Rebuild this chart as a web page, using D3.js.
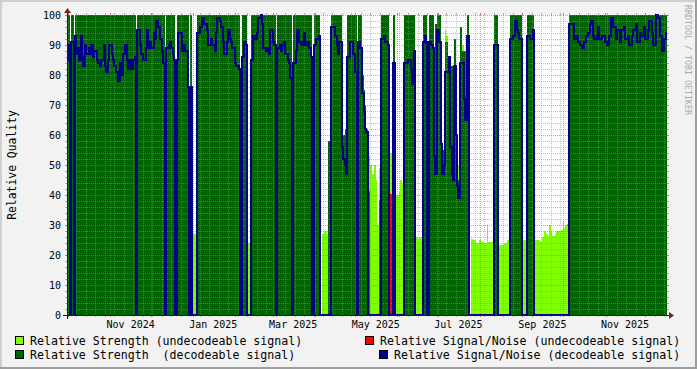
<!DOCTYPE html>
<html>
<head>
<meta charset="utf-8">
<script src="https://cdn.jsdelivr.net/npm/d3@7"></script>
<style>
  body { margin: 0; background: #f2f2f2; }
  svg { display: block; font-family: "DejaVu Sans Mono", monospace; }
</style>
</head>
<body>
<svg id="chart" width="697" height="369"></svg>
<script>
// time range of the graph (days below are counted from start)
var start = new Date(Date.UTC(2024, 8, 30));
var end = new Date(Date.UTC(2025, 11, 17));

// [day, value] change points, value holds until the next entry
var strengthGood = [[0,100],[2,0],[3,100],[5,0],[6,100],[51,0],[52,100],[72,0],[73,100],[80,0],[81,100],[90,0],[91,100],[92,0],[96,100],[128,0],[129,100],[133,0],[136,100],[154,0],[155,100],[166,0],[167,100],[181,0],[182,100],[187,0],[193,58],[194,50],[195,100],[203,62],[204,60],[205,62],[206,58],[207,100],[214,0],[215,100],[218,80],[219,75],[220,70],[221,62],[222,0],[232,100],[238,0],[241,100],[242,0],[249,100],[257,0],[263,100],[266,0],[267,100],[271,55],[272,97],[273,100],[276,55],[279,91],[281,86],[283,83],[286,92],[287,83],[288,45],[290,96],[292,88],[295,100],[297,0],[315,100],[318,0],[327,100],[336,0],[340,100],[345,0],[371,100]];

var strengthBad = [[0,0],[93,27],[95,0],[128,25],[129,0],[134,24],[136,0],[166,25],[167,0],[188,27],[190,28],[192,27],[193,0],[222,53],[224,50],[225,47],[227,50],[228,45],[229,30],[230,49],[231,28],[232,0],[238,54],[240,50],[241,0],[242,43],[243,40],[245,41],[246,45],[247,44],[248,43],[249,0],[258,26],[259,25.5],[260,26],[262,0],[279,95],[280,93],[281,0],[288,55],[289,50],[290,0],[292,90],[293,0],[298,25.5],[300,25],[302,24],[304,25],[306,24.5],[308,24],[310,30],[311,24.5],[315,0],[319,23.5],[323,24],[325,25],[327,0],[337,25],[340,0],[345,25],[349,24.5],[351,26],[352,28],[354,27],[355,26.5],[356,30],[357,28],[358,26.5],[360,27],[361,28],[365,28.5],[366,31],[367,29],[368,30],[369,30.5],[370,30],[371,0]];

var snrBad = [[0,0],[222,41],[223,0],[231,38],[232,0],[239,40],[240,38],[241,0]];

var snrGood = [[0,85],[1,90],[2,0],[3,91],[5,0],[6,93],[7,87],[8,89],[9,85],[10,93],[11,86],[12,83],[13,90],[14,87],[16,89],[17,87],[18,90],[19,86],[20,88],[22,85],[23,84],[24,83],[25,85],[27,90],[28,83],[29,81],[30,85],[31,90],[33,87],[34,85],[35,83],[36,81],[38,78],[39,84],[40,80],[41,87],[43,90],[44,85],[45,82],[46,85],[47,82],[49,85],[50,86],[51,0],[52,95],[54,90],[55,87],[56,85],[58,89],[59,95],[60,89],[61,91],[62,89],[64,94],[65,92],[66,98],[67,96],[69,92],[70,88],[71,84],[72,0],[73,89],[75,90],[76,91],[77,89],[78,87],[79,85],[80,0],[81,85],[82,94],[85,88],[86,90],[87,88],[89,76],[90,0],[91,76],[92,0],[96,94],[98,96],[100,99],[101,97],[103,95],[104,90],[106,92],[107,90],[109,88],[110,94],[111,99],[113,98],[114,96],[115,91],[116,87],[118,91],[119,95],[120,92],[121,91],[122,89],[124,84],[125,83],[127,82],[128,0],[129,86],[131,91],[132,90],[133,0],[136,85],[137,93],[139,92],[140,94],[141,99],[143,100],[144,97],[145,89],[147,88],[148,89],[149,87],[150,95],[152,91],[153,90],[154,0],[155,89],[157,90],[158,88],[159,90],[160,91],[161,87],[163,85],[164,84],[165,79],[166,0],[167,84],[169,88],[170,95],[171,91],[173,90],[174,91],[175,94],[176,90],[177,91],[179,89],[180,86],[181,0],[182,90],[184,92],[186,93],[187,0],[195,96],[198,93],[199,90],[200,87],[201,91],[203,56],[204,52],[205,50],[206,47],[207,86],[209,91],[211,87],[213,81],[214,0],[215,91],[216,89],[218,74],[219,68],[220,62],[221,61],[222,0],[232,92],[234,93],[235,91],[237,90],[238,0],[241,84],[242,0],[249,84],[252,85],[254,82],[255,77],[256,88],[257,0],[263,91],[264,93],[265,91],[266,0],[267,91],[269,90],[270,89],[271,53],[272,47],[273,95],[275,91],[276,57],[277,47],[278,50],[279,81],[282,86],[283,56],[284,47],[285,45],[286,83],[287,60],[288,43],[289,39],[290,84],[293,72],[294,65],[295,93],[297,0],[315,90],[318,0],[327,92],[329,93],[331,98],[332,95],[333,94],[334,92],[336,0],[340,93],[342,92],[344,95],[345,0],[371,97],[374,92],[376,93],[377,91],[379,90],[380,89],[382,91],[383,93],[385,94],[386,97],[387,98],[388,93],[389,92],[391,93],[392,96],[393,92],[395,93],[397,91],[399,90],[400,93],[402,99],[403,96],[405,92],[406,95],[408,91],[409,95],[411,96],[412,92],[414,93],[415,90],[417,93],[418,95],[420,97],[421,91],[423,94],[424,93],[426,96],[427,92],[429,95],[430,98],[432,94],[433,90],[435,100],[436,99],[438,93],[439,88],[441,92],[442,94]];

var yTicks = [0, 10, 20, 30, 40, 50, 60, 70, 80, 90, 100];
var legendItems = [
  {label: "Relative Strength (undecodeable signal)", color: "#80ff00"},
  {label: "Relative Signal/Noise (undecodeable signal)", color: "#ff0000"},
  {label: "Relative Strength  (decodeable signal)", color: "#006400"},
  {label: "Relative Signal/Noise (decodeable signal)", color: "#00008b"}
];

var W = 697, H = 369;
var plotL = 67, plotR = 667, plotT = 15, plotB = 315;

var svg = d3.select("#chart");

var x = d3.scaleUtc().domain([start, end]).range([plotL, plotR]);
var y = d3.scaleLinear().domain([0, 100]).range([plotB, plotT]);

function toPoints(changes) {
  var pts = changes.map(function(c) {
    return {t: d3.utcDay.offset(start, c[0]), v: c[1]};
  });
  pts.push({t: end, v: changes[changes.length - 1][1]});
  return pts;
}

// background + frame
svg.append("rect").attr("width", W).attr("height", H).attr("fill", "#f2f2f2");
svg.append("path").attr("d", "M1,369V1H697").attr("fill", "none").attr("stroke", "#cfcfcf").attr("stroke-width", 2);
svg.append("path").attr("d", "M0,368H696V0").attr("fill", "none").attr("stroke", "#9e9e9e").attr("stroke-width", 2);

svg.append("clipPath").attr("id", "plotclip").append("rect")
  .attr("x", plotL - 1).attr("y", plotT - 2).attr("width", plotR - plotL + 2).attr("height", plotB - plotT + 2);

// canvas
svg.append("rect").attr("x", plotL).attr("y", plotT).attr("width", plotR - plotL).attr("height", plotB - plotT).attr("fill", "#ffffff");

var area = d3.area()
  .curve(d3.curveStepAfter)
  .x(function(d) { return Math.round(x(d.t)); })
  .y0(y(0))
  .y1(function(d) { return y(d.v); });

var line = d3.line()
  .curve(d3.curveStepAfter)
  .x(function(d) { return Math.round(x(d.t)); })
  .y(function(d) { return y(d.v); });

// same order as the legend: light area, red line, dark area, blue line
svg.append("path").datum(toPoints(strengthBad))
  .attr("d", area).attr("fill", "#80ff00").attr("shape-rendering", "crispEdges");
svg.append("path").datum(toPoints(snrBad))
  .attr("d", line).attr("fill", "none").attr("stroke", "#ff0000").attr("stroke-width", 2)
  .attr("clip-path", "url(#plotclip)");
svg.append("path").datum(toPoints(strengthGood))
  .attr("d", area).attr("fill", "#006400").attr("shape-rendering", "crispEdges");

// grid (drawn over the areas like rrdtool does)
var grid = svg.append("g");
var minorY = d3.range(0, 101, 2).filter(function(v) { return v % 10 !== 0; });
minorY.forEach(function(v) {
  var yy = Math.round(y(v)) + 0.5;
  grid.append("line").attr("x1", plotL).attr("x2", plotR).attr("y1", yy).attr("y2", yy)
    .attr("stroke", "rgba(143,143,143,0.55)").attr("stroke-dasharray", "1,1");
  grid.append("line").attr("x1", plotL - 2).attr("x2", plotL).attr("y1", yy).attr("y2", yy)
    .attr("stroke", "rgba(143,143,143,0.7)");
  grid.append("line").attr("x1", plotR).attr("x2", plotR + 2).attr("y1", yy).attr("y2", yy)
    .attr("stroke", "rgba(143,143,143,0.7)");
});
d3.utcMonday.range(start, end).forEach(function(t) {
  var xx = Math.round(x(t)) + 0.5;
  grid.append("line").attr("x1", xx).attr("x2", xx).attr("y1", plotT).attr("y2", plotB)
    .attr("stroke", "rgba(143,143,143,0.55)").attr("stroke-dasharray", "1,1");
  grid.append("line").attr("x1", xx).attr("x2", xx).attr("y1", plotT - 2).attr("y2", plotT)
    .attr("stroke", "rgba(143,143,143,0.7)");
  grid.append("line").attr("x1", xx).attr("x2", xx).attr("y1", plotB).attr("y2", plotB + 2)
    .attr("stroke", "rgba(143,143,143,0.7)");
});
yTicks.forEach(function(v) {
  var yy = Math.round(y(v)) + 0.5;
  grid.append("line").attr("x1", plotL).attr("x2", plotR).attr("y1", yy).attr("y2", yy)
    .attr("stroke", "rgba(222,79,79,0.6)").attr("stroke-dasharray", "1,1");
  grid.append("line").attr("x1", plotL - 2).attr("x2", plotL).attr("y1", yy).attr("y2", yy)
    .attr("stroke", "rgba(222,79,79,0.8)");
  grid.append("line").attr("x1", plotR).attr("x2", plotR + 2).attr("y1", yy).attr("y2", yy)
    .attr("stroke", "rgba(222,79,79,0.8)");
});
d3.utcMonth.range(start, end).forEach(function(t) {
  var xx = Math.round(x(t)) + 0.5;
  grid.append("line").attr("x1", xx).attr("x2", xx).attr("y1", plotT).attr("y2", plotB)
    .attr("stroke", "rgba(222,79,79,0.6)").attr("stroke-dasharray", "1,1");
  grid.append("line").attr("x1", xx).attr("x2", xx).attr("y1", plotT - 2).attr("y2", plotT)
    .attr("stroke", "rgba(222,79,79,0.8)");
  grid.append("line").attr("x1", xx).attr("x2", xx).attr("y1", plotB).attr("y2", plotB + 2)
    .attr("stroke", "rgba(222,79,79,0.8)");
});

svg.append("path").datum(toPoints(snrGood))
  .attr("d", line).attr("fill", "none").attr("stroke", "#00008b").attr("stroke-width", 2)
  .attr("clip-path", "url(#plotclip)");

// axes + arrows
svg.append("line").attr("x1", plotL - 4).attr("x2", plotR + 4).attr("y1", plotB + 0.5).attr("y2", plotB + 0.5)
  .attr("stroke", "#1f1f1f");
svg.append("line").attr("x1", plotL + 0.5).attr("x2", plotL + 0.5).attr("y1", plotB + 4).attr("y2", plotT - 4)
  .attr("stroke", "#1f1f1f");
svg.append("path").attr("d", "M" + (plotR + 2) + "," + (plotB - 3) + "L" + (plotR + 2) + "," + (plotB + 4) + "L" + (plotR + 7) + "," + (plotB + 0.5) + "Z")
  .attr("fill", "#801f1f");
svg.append("path").attr("d", "M" + (plotL - 3) + "," + (plotT - 2) + "L" + (plotL + 4) + "," + (plotT - 2) + "L" + (plotL + 0.5) + "," + (plotT - 7) + "Z")
  .attr("fill", "#801f1f");

// y labels
svg.append("g").selectAll("text").data(yTicks).enter().append("text")
  .attr("x", plotL - 6).attr("y", function(d) { return y(d) + 3.5; })
  .attr("text-anchor", "end").attr("font-size", "10px").attr("fill", "#000")
  .text(function(d) { return d; });

// x labels, centred half a month after the month start
var fmt = d3.utcFormat("%b %Y");
var labelMonths = d3.utcMonth.every(2).range(start, end);
svg.append("g").selectAll("text").data(labelMonths).enter().append("text")
  .attr("x", function(d) { return x(d3.utcDay.offset(d, 15)); })
  .attr("y", 328)
  .attr("text-anchor", "middle").attr("font-size", "10px").attr("fill", "#000")
  .text(function(d) { return fmt(d); });

// vertical title
svg.append("text").attr("transform", "translate(16,165) rotate(-90)")
  .attr("text-anchor", "middle").attr("font-size", "11.4px").attr("fill", "#000")
  .text("Relative Quality");

// watermark
svg.append("text").attr("transform", "translate(685,5) rotate(90)")
  .attr("font-size", "8.3px").attr("fill", "#aaaaaa")
  .text("RRDTOOL / TOBI OETIKER");

// legend
var legendPos = [
  {bx: 15, by: 336, tx: 30, ty: 344.5},
  {bx: 365, by: 336, tx: 380, ty: 344.5},
  {bx: 15, by: 350, tx: 30, ty: 358.7},
  {bx: 379, by: 350, tx: 394, ty: 358.7}
];
var lg = svg.append("g").selectAll("g").data(legendItems).enter().append("g");
lg.append("rect")
  .attr("x", function(d, i) { return legendPos[i].bx + 0.5; })
  .attr("y", function(d, i) { return legendPos[i].by + 0.5; })
  .attr("width", 8).attr("height", 8)
  .attr("fill", function(d) { return d.color; })
  .attr("stroke", "#000");
lg.append("text")
  .attr("x", function(d, i) { return legendPos[i].tx; })
  .attr("y", function(d, i) { return legendPos[i].ty; })
  .attr("font-size", "11.6px").attr("fill", "#000")
  .style("white-space", "pre")
  .text(function(d) { return d.label; });
</script>
</body>
</html>
